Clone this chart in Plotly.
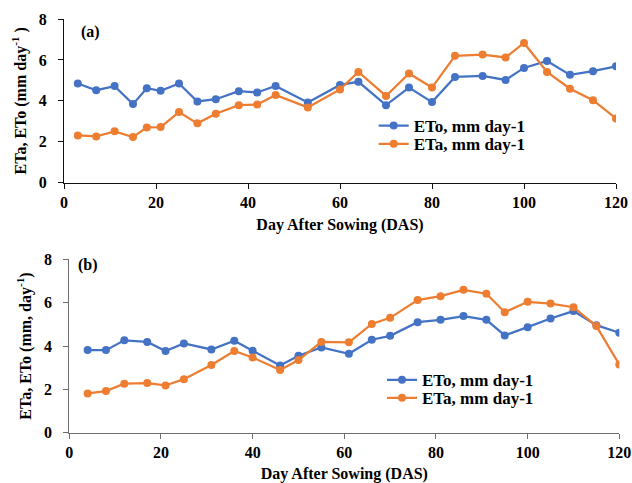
import plotly.graph_objects as go

# Panel (a)
days_a = [3, 7, 11, 15, 18, 21, 25, 29, 33, 38, 42, 46, 53, 60, 64, 70, 75, 80, 85, 91, 96, 100, 105, 110, 115, 120]
eto_a = [4.85, 4.52, 4.72, 3.84, 4.62, 4.49, 4.85, 3.97, 4.08, 4.47, 4.41, 4.73, 3.92, 4.78, 4.93,
         3.79, 4.65, 3.94, 5.17, 5.22, 5.02, 5.61, 5.95, 5.27, 5.45, 5.69]
eta_a = [2.31, 2.26, 2.51, 2.23, 2.70, 2.72, 3.45, 2.90, 3.37, 3.79, 3.82, 4.29, 3.68, 4.56, 5.41,
         4.24, 5.34, 4.65, 6.20, 6.26, 6.12, 6.83, 5.41, 4.59, 4.03, 3.14]

# Panel (b)
days_b = [4, 8, 12, 17, 21, 25, 31, 36, 40, 46, 50, 55, 61, 66, 70, 76, 81, 86, 91, 95, 100, 105, 110, 115, 120]
eto_b = [3.81, 3.81, 4.26, 4.19, 3.77, 4.12, 3.84, 4.24, 3.78, 3.10, 3.55, 3.93, 3.64, 4.29, 4.47,
         5.10, 5.21, 5.38, 5.21, 4.49, 4.87, 5.27, 5.61, 4.96, 4.61]
eta_b = [1.81, 1.92, 2.26, 2.29, 2.18, 2.47, 3.12, 3.77, 3.47, 2.89, 3.35, 4.19, 4.17, 5.02, 5.30,
         6.12, 6.30, 6.59, 6.41, 5.56, 6.04, 5.96, 5.79, 4.92, 3.15]

x_ticks = [0, 20, 40, 60, 80, 100, 120]
y_ticks = [0, 2, 4, 6, 8]
name_eto = "ETo, mm day-1"
name_eta = "ETa, mm day-1"
x_title = "Day After Sowing (DAS)"
y_title_a = "ETa, ETo (mm day<sup>-1</sup> )"
y_title_b = "ETa, ETo (mm, day<sup>-1</sup>)"

BLUE = "#4472C4"
ORANGE = "#ED7D31"
FONT = "Liberation Serif"
W, H = 632, 483

def bf(size):
    return dict(family=FONT, size=size, color="black", weight="bold")

fig = go.Figure()
for xs, ys, nm, col, xa, ya, lg in [
    (days_a, eto_a, name_eto, BLUE, "x", "y", "legend"),
    (days_a, eta_a, name_eta, ORANGE, "x", "y", "legend2"),
    (days_b, eto_b, name_eto, BLUE, "x2", "y2", "legend3"),
    (days_b, eta_b, name_eta, ORANGE, "x2", "y2", "legend4"),
]:
    fig.add_trace(go.Scatter(
        x=xs, y=ys, name=nm, mode="lines+markers",
        line=dict(color=col, width=2.25),
        marker=dict(color=col, size=8),
        xaxis=xa, yaxis=ya, legend=lg, showlegend=True,
    ))

def axis_common(lc):
    return dict(
        showgrid=False, zeroline=False, showline=True, linecolor=lc, linewidth=1.3,
        ticks="outside", ticklen=5, tickcolor=lc, tickwidth=1.3,
        tickfont=bf(16), automargin=False, ticklabeloverflow="allow",
    )

def legend_at(x, top):
    return dict(x=x/W, y=1-top/H, xanchor="left", yanchor="top",
                bgcolor="rgba(0,0,0,0)", font=bf(17), tracegroupgap=0, itemwidth=30)

fig.update_layout(
    width=W, height=H,
    showlegend=True,
    margin=dict(l=0, r=0, t=0, b=0, pad=0),
    paper_bgcolor="white", plot_bgcolor="white",
    font=dict(family=FONT, color="black"),
    xaxis=dict(domain=[64/W, 616/W], range=[0, 120], tickvals=x_ticks, anchor="y",
               title=dict(text=x_title, font=bf(16), standoff=8), **axis_common("#111")),
    yaxis=dict(domain=[1-182.7/H, 1-19/H], range=[0, 8], tickvals=y_ticks, anchor="x",
               ticklabelstandoff=8,
               title=dict(text=y_title_a, font=bf(16), standoff=8), **axis_common("#111")),
    xaxis2=dict(domain=[69.3/W, 619.3/W], range=[0, 120], tickvals=x_ticks, anchor="y2",
                title=dict(text=x_title, font=bf(16), standoff=8), **axis_common("#6e6e6e")),
    yaxis2=dict(domain=[1-432.7/H, 1-259.3/H], range=[0, 8], tickvals=y_ticks, anchor="x2",
                ticklabelstandoff=8,
                title=dict(text=y_title_b, font=bf(16), standoff=8), **axis_common("#6e6e6e")),
    legend=legend_at(373.7, 108),
    legend2=legend_at(373.7, 126.3),
    legend3=legend_at(382, 362.3),
    legend4=legend_at(382, 380.3),
    annotations=[
        dict(text="(a)", x=90/W, y=1-32/H, xref="paper", yref="paper",
             xanchor="center", yanchor="middle", showarrow=False, font=bf(16)),
        dict(text="(b)", x=88/W, y=1-265/H, xref="paper", yref="paper",
             xanchor="center", yanchor="middle", showarrow=False, font=bf(16)),
    ],
)

fig.write_html(
    "out.html",
    config={"displayModeBar": False},
    post_script="document.body.style.margin='0';document.body.style.overflow='hidden';",
)
